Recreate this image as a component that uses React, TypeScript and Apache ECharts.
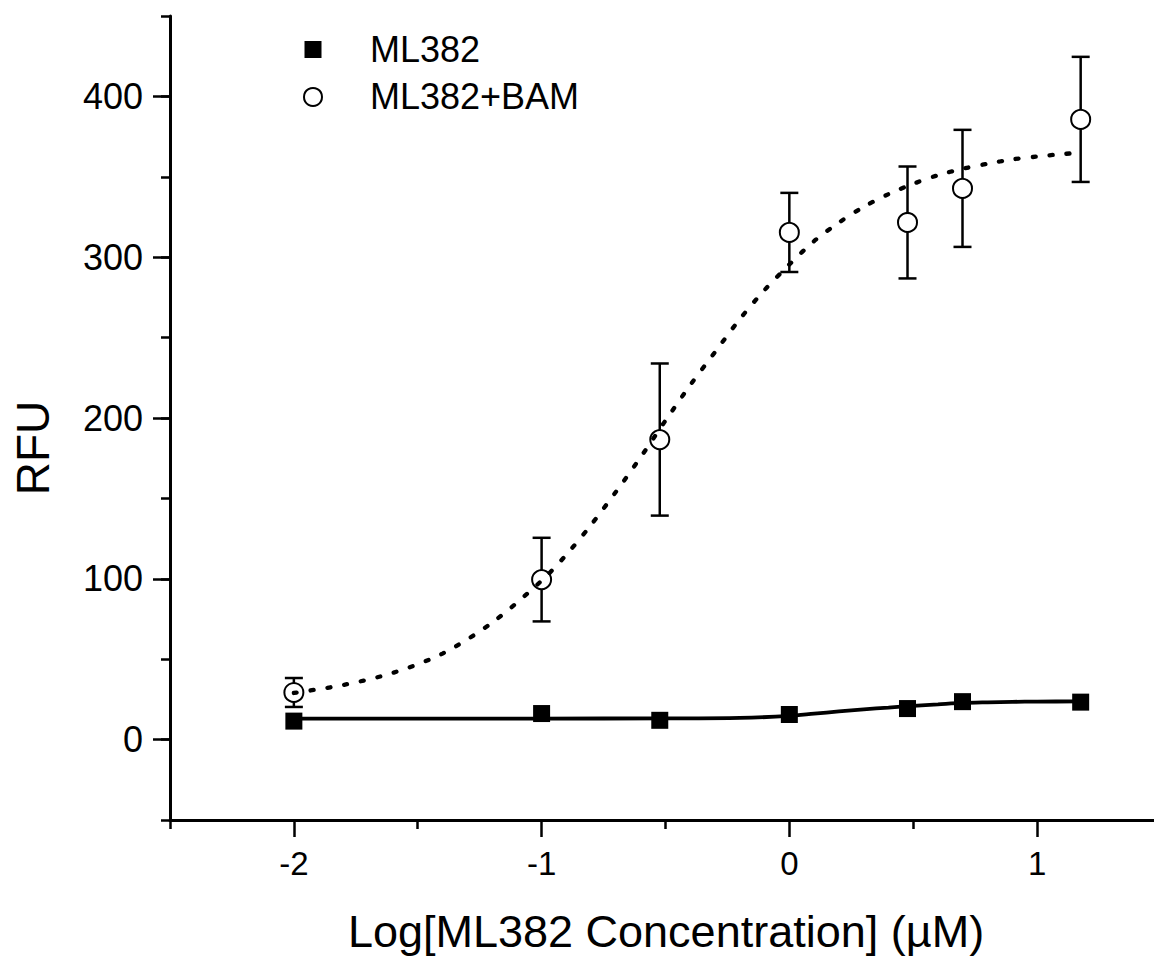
import React, { useEffect, useRef } from "react";
import * as echarts from "echarts";

// Log concentrations (µM): 0.01, 0.1, 0.3, 1, 3, 5, 15
const concLog = [-2, -1, -0.523, 0, 0.477, 0.699, 1.176];
const ml382 = [11.5, 16.2, 12, 15.6, 19.3, 23.6, 23.3];
const ml382Bam = [29.3, 99.5, 186.6, 315.4, 321.6, 342.8, 385.7];
const ml382BamErr = [9, 26, 47.3, 24.6, 34.8, 36.4, 38.9];

// Fitted curves
const fitXMl382 = [-2, -1.5, -1, -0.5, -0.2, 0, 0.1, 0.2, 0.3, 0.4, 0.5, 0.6, 0.7, 0.8, 0.9, 1.0, 1.176];
const fitYMl382 = [13.1, 13.1, 13.1, 13.2, 13.5, 14.7, 16.1, 17.5, 18.8, 19.9, 21.0, 21.9, 22.8, 23.2, 23.5, 23.6, 23.8];
const fitXBam = [-2, -1.8, -1.6, -1.4, -1.2, -1.0, -0.9, -0.8, -0.7, -0.6, -0.5, -0.4, -0.3, -0.2, -0.1, 0, 0.1, 0.2, 0.3, 0.4, 0.5, 0.6, 0.7, 0.8, 0.9, 1.0, 1.1, 1.176];
const fitYBam = [29, 34, 41.5, 53.5, 72.7, 98.8, 115, 133.6, 154.1, 175.7, 198.4, 220.5, 241, 261.5, 279.6, 295.5, 310, 321.5, 331.3, 339.2, 345.6, 351, 355, 358.1, 360.8, 362.6, 364.1, 365];

const xMajorTicks = [-2, -1, 0, 1];
const xMinorTicks = [-2.5, -1.5, -0.5, 0.5];
const yMajorTicks = [0, 100, 200, 300, 400];
const legendNames = ["ML382", "ML382+BAM"];
const xTitle = "Log[ML382 Concentration] (µM)";
const yTitle = "RFU";

const FONT = "'Liberation Sans', Arial, Helvetica, sans-serif";

export default function App() {
  const ref = useRef<HTMLDivElement>(null);
  useEffect(() => {
    if (!ref.current) return;
    const chart = echarts.init(ref.current, null, { renderer: "svg" });
    const black = "#000";
    const axisBase = {
      type: "value" as const,
      splitLine: { show: false },
    };
    const option: any = {
      animation: false,
      backgroundColor: "#fff",
      textStyle: { fontFamily: FONT, color: black },
      grid: { left: 170, top: 16, right: 0, bottom: 139, containLabel: false },
      xAxis: [
        {
          ...axisBase,
          min: -2.5,
          max: 1.472,
          position: "bottom",
          axisLine: { show: true, onZero: false, lineStyle: { color: black, width: 3 } },
          axisTick: { show: true, inside: false, length: 9, customValues: xMinorTicks, lineStyle: { color: black, width: 2.5 } },
          axisLabel: {
            show: true,
            customValues: xMajorTicks,
            margin: 27,
            fontSize: 33,
            color: black,
            fontFamily: FONT,
          },
          name: xTitle,
          nameLocation: "middle",
          nameGap: 89,
          nameTextStyle: { fontSize: 45, color: black, fontFamily: FONT, padding: [0, 0, 0, 8] },
        },
        {
          ...axisBase,
          min: -2.5,
          max: 1.472,
          position: "bottom",
          axisLine: { show: false, onZero: false },
          axisTick: { show: true, inside: false, length: 17, customValues: xMajorTicks, lineStyle: { color: black, width: 2.5 } },
          axisLabel: { show: false },
        },
      ],
      yAxis: [
        {
          ...axisBase,
          min: -50,
          max: 450,
          interval: 50,
          position: "left",
          axisLine: { show: true, onZero: false, lineStyle: { color: black, width: 3 } },
          axisTick: { show: true, inside: false, length: 9, lineStyle: { color: black, width: 2.5 } },
          axisLabel: {
            show: true,
            customValues: yMajorTicks,
            margin: 27,
            fontSize: 36,
            color: black,
            fontFamily: FONT,
          },
        },
        {
          ...axisBase,
          min: -50,
          max: 450,
          position: "left",
          axisLine: { show: false, onZero: false },
          axisTick: { show: true, inside: false, length: 17, customValues: yMajorTicks, lineStyle: { color: black, width: 2.5 } },
          axisLabel: { show: false },
        },
      ],
      series: [
        {
          name: "ML382 fit",
          type: "line",
          xAxisIndex: 0,
          yAxisIndex: 0,
          data: fitXMl382.map((x, i) => [x, fitYMl382[i]]),
          smooth: 0.3,
          showSymbol: false,
          lineStyle: { color: black, width: 3.8, opacity: 1 },
          z: 2,
        },
        {
          name: legendNames[0],
          type: "scatter",
          xAxisIndex: 0,
          yAxisIndex: 0,
          data: concLog.map((x, i) => [x, ml382[i]]),
          symbol: "rect",
          symbolSize: 17,
          itemStyle: { color: black, opacity: 1 },
          z: 4,
        },
        {
          name: "ML382+BAM error",
          type: "custom",
          xAxisIndex: 0,
          yAxisIndex: 0,
          data: concLog.map((x, i) => [x, ml382Bam[i] - ml382BamErr[i], ml382Bam[i] + ml382BamErr[i]]),
          encode: { x: 0, y: [1, 2] },
          renderItem: (params: any, api: any) => {
            const x = api.value(0);
            const lo = api.coord([x, api.value(1)]);
            const hi = api.coord([x, api.value(2)]);
            const hw = 9;
            const st = { stroke: black, lineWidth: 2.5 };
            return {
              type: "group",
              children: [
                { type: "line", shape: { x1: lo[0], y1: lo[1], x2: hi[0], y2: hi[1] }, style: st },
                { type: "line", shape: { x1: hi[0] - hw, y1: hi[1], x2: hi[0] + hw, y2: hi[1] }, style: st },
                { type: "line", shape: { x1: lo[0] - hw, y1: lo[1], x2: lo[0] + hw, y2: lo[1] }, style: st },
              ],
            };
          },
          z: 1,
        },
        {
          name: legendNames[1],
          type: "scatter",
          xAxisIndex: 0,
          yAxisIndex: 0,
          data: concLog.map((x, i) => [x, ml382Bam[i]]),
          symbol: "circle",
          symbolSize: 19,
          itemStyle: { color: "#fff", borderColor: black, borderWidth: 2, opacity: 1 },
          z: 2,
        },
        {
          name: "ML382+BAM fit",
          type: "line",
          xAxisIndex: 0,
          yAxisIndex: 0,
          data: fitXBam.map((x, i) => [x, fitYBam[i]]),
          smooth: 0.3,
          showSymbol: false,
          lineStyle: { color: black, width: 4.3, type: [3, 14], cap: "round", opacity: 1 },
          z: 3,
        },
      ],
      graphic: [
        { type: "rect", shape: { x: 304.5, y: 41, width: 17, height: 17 }, style: { fill: black }, z: 10 },
        { type: "circle", shape: { cx: 313, cy: 97, r: 9 }, style: { fill: "#fff", stroke: black, lineWidth: 2 }, z: 10 },
        {
          type: "text",
          x: 370,
          y: 49,
          z: 10,
          style: {
            text: legendNames[0],
            fontSize: 36,
            fontFamily: FONT,
            fill: black,
            align: "left",
            verticalAlign: "middle",
            textAlign: "left",
            textVerticalAlign: "middle",
          },
        },
        {
          type: "text",
          x: 370,
          y: 96,
          z: 10,
          style: {
            text: legendNames[1],
            fontSize: 36,
            fontFamily: FONT,
            fill: black,
            align: "left",
            verticalAlign: "middle",
            textAlign: "left",
            textVerticalAlign: "middle",
          },
        },
        {
          type: "text",
          x: 33,
          y: 448,
          rotation: Math.PI / 2,
          z: 10,
          style: {
            text: yTitle,
            fontSize: 46,
            fontFamily: FONT,
            fill: black,
            align: "center",
            verticalAlign: "middle",
            textAlign: "center",
            textVerticalAlign: "middle",
          },
        },
      ],
    };
    chart.setOption(option);
    return () => {
      chart.dispose();
    };
  }, []);
  return (
    <div
      ref={ref}
      style={{ position: "fixed", left: 0, top: 0, width: 1154, height: 959, background: "#fff" }}
    />
  );
}
